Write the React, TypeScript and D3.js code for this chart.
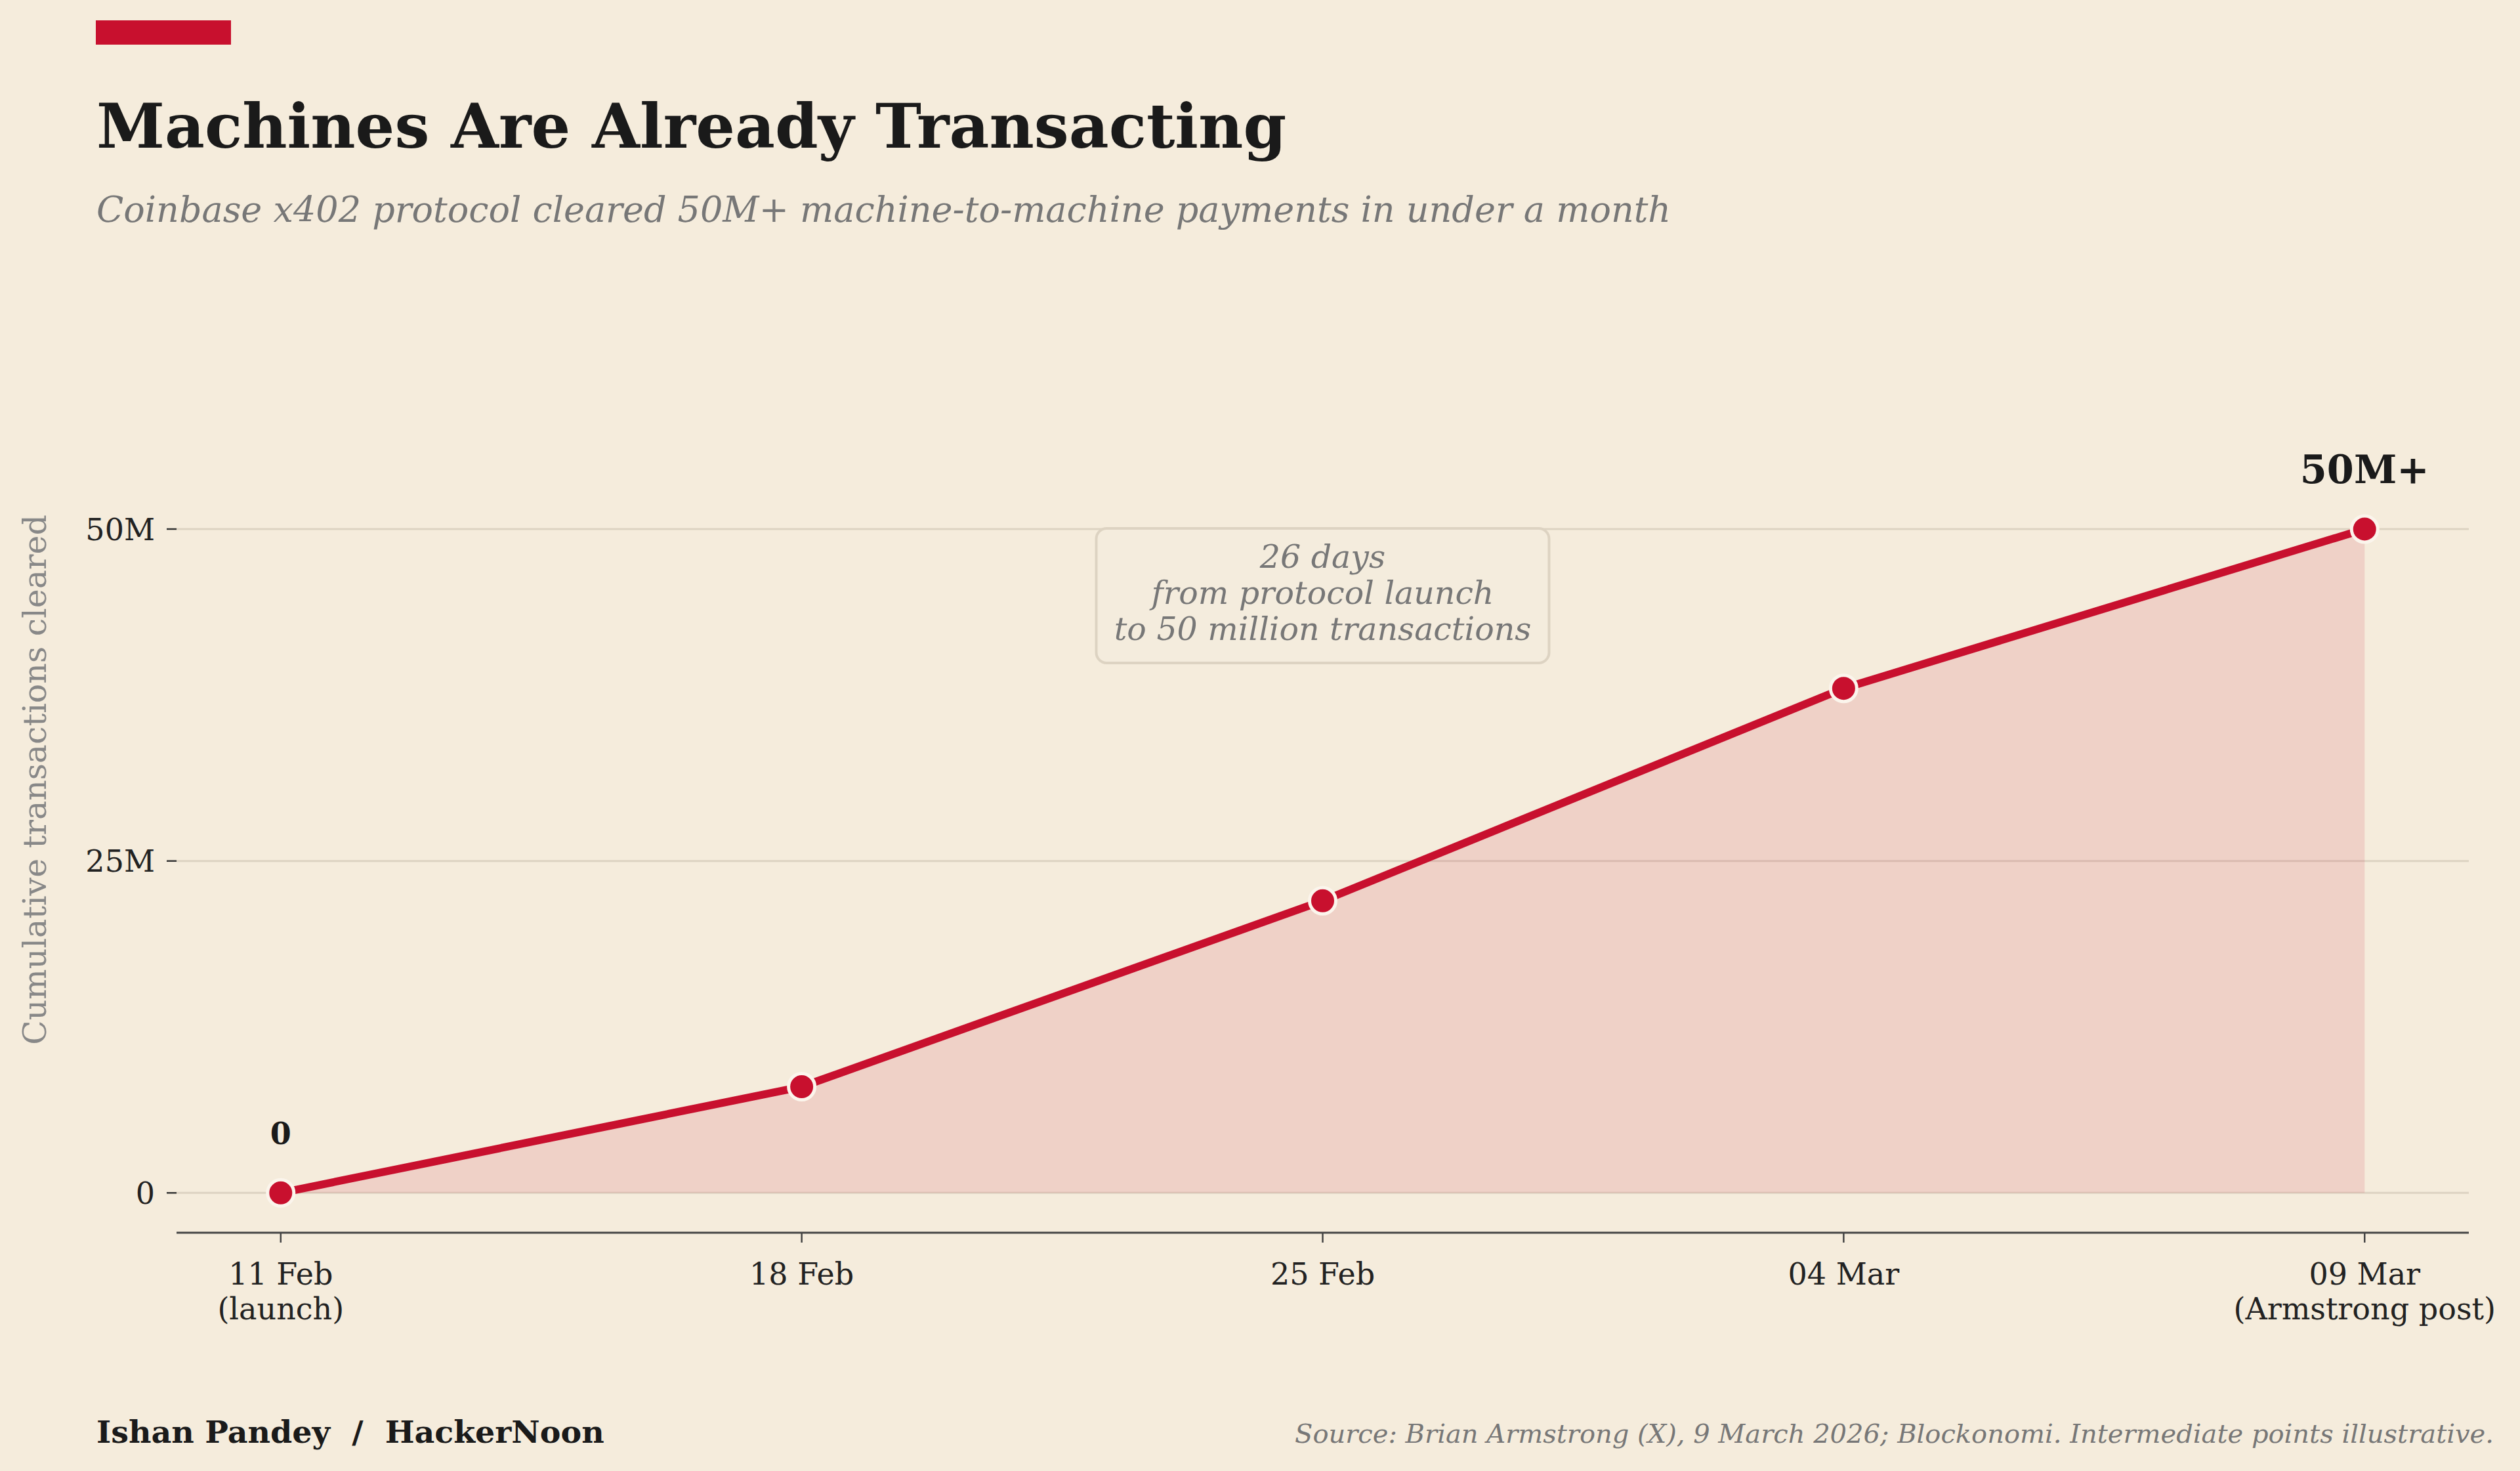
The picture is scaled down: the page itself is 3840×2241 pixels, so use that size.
import React from "react";
import * as d3 from "d3";

const W = 3840;
const H = 2241;
const dates = ["11 Feb", "18 Feb", "25 Feb", "04 Mar", "09 Mar"];
const dateNotes = ["(launch)", "", "", "", "(Armstrong post)"];
const cumulative = [0, 8e6, 22e6, 38e6, 50e6];
const yTicks = [0, 25e6, 50e6];
const yTickLabels = ["0", "25M", "50M"];
const noteLines = ["26 days", "from protocol launch", "to 50 million transactions"];

const RED = "#c8102e";
const BG = "#f5ecdc";
const FONT = "'DejaVu Serif', serif";

export default function App() {
  const left = 269, right = 3762;
  const x = d3.scalePoint<string>().domain(dates).range([left, right]).padding(0.2);
  const y = d3.scaleLinear().domain([-3e6, 50e6]).range([1878, 806]);
  const pts = dates.map((d, i) => ({ d, v: cumulative[i] }));
  const line = d3.line<{ d: string; v: number }>().x(p => x(p.d)!).y(p => y(p.v));
  const area = d3.area<{ d: string; v: number }>().x(p => x(p.d)!).y0(y(0)).y1(p => y(p.v));
  const last = pts[pts.length - 1];
  const mid = dates[2];

  return (
    <svg width={W} height={H} style={{ position: "absolute", left: 0, top: 0, display: "block" }} fontFamily={FONT}>
      <rect width={W} height={H} fill={BG} />
      <rect x={146} y={31} width={206} height={37} fill={RED} />
      <text x={147} y={225} fontSize={94} fontWeight="bold" fill="#1a1a1a">Machines Are Already Transacting</text>
      <text x={147} y={338} fontSize={54} fontStyle="italic" fill="#777">
        Coinbase x402 protocol cleared 50M+ machine-to-machine payments in under a month
      </text>

      {/* grid + y axis */}
      {yTicks.map((t, i) => (
        <g key={t}>
          <line x1={left} x2={right} y1={y(t)} y2={y(t)} stroke="#ddd3c2" strokeWidth={3} />
          <line x1={254} x2={269} y1={y(t)} y2={y(t)} stroke="#333" strokeWidth={2.5} />
          <text x={236} y={y(t)} dy="0.36em" textAnchor="end" fontSize={46} fill="#222">{yTickLabels[i]}</text>
        </g>
      ))}
      <text transform={`translate(52,1188) rotate(-90)`} dy="0.36em" textAnchor="middle" fontSize={49} fill="#888">
        Cumulative transactions cleared
      </text>

      {/* area + line */}
      <path d={area(pts)!} fill={RED} fillOpacity={0.12} />
      <path d={line(pts)!} fill="none" stroke={RED} strokeWidth={12} strokeLinejoin="round" />
      {pts.map(p => (
        <circle key={p.d} cx={x(p.d)} cy={y(p.v)} r={20} fill={RED} stroke="#fbf5ec" strokeWidth={5} />
      ))}

      {/* x axis */}
      <line x1={left} x2={right} y1={1878} y2={1878} stroke="#444" strokeWidth={3} />
      {dates.map((d, i) => (
        <g key={d}>
          <line x1={x(d)} x2={x(d)} y1={1878} y2={1893} stroke="#444" strokeWidth={2.5} />
          <text x={x(d)} y={1957} textAnchor="middle" fontSize={46} fill="#222">{d}</text>
          {dateNotes[i] && (
            <text x={x(d)} y={2010} textAnchor="middle" fontSize={46} fill="#222">{dateNotes[i]}</text>
          )}
        </g>
      ))}

      {/* labels */}
      <text x={x(dates[0])} y={1743} textAnchor="middle" fontSize={46} fontWeight="bold" fill="#1a1a1a">0</text>
      <text x={x(last.d)} y={736} textAnchor="middle" fontSize={59} fontWeight="bold" fill="#1a1a1a">50M+</text>

      {/* annotation */}
      <rect x={x(mid)! - 345} y={805} width={690} height={205} rx={16} fill="#f4ecdd" stroke="#ddd3c2" strokeWidth={4} />
      {noteLines.map((l, i) => (
        <text key={l} x={x(mid)} y={865 + i * 55} textAnchor="middle" fontSize={49} fontStyle="italic" fill="#777">{l}</text>
      ))}

      {/* footer */}
      <text x={147} y={2198} fontSize={47.5} fontWeight="bold" fill="#1a1a1a" style={{ whiteSpace: "pre" }}>
        {"Ishan Pandey  /  HackerNoon"}
      </text>
      <text x={3800} y={2198} textAnchor="end" fontSize={40} fontStyle="italic" fill="#777">
        Source: Brian Armstrong (X), 9 March 2026; Blockonomi. Intermediate points illustrative.
      </text>
    </svg>
  );
}
